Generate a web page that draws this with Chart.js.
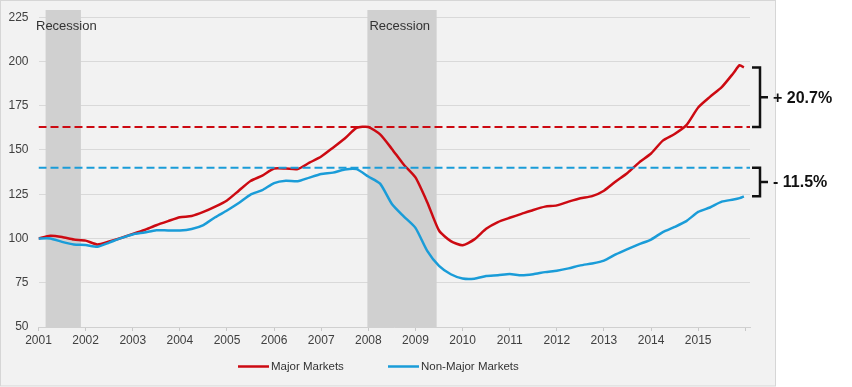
<!DOCTYPE html>
<html>
<head>
<meta charset="utf-8">
<script src="https://cdn.jsdelivr.net/npm/chart.js@4.4.1/dist/chart.umd.min.js"></script>
<style>
  html, body { margin: 0; padding: 0; background: #ffffff; }
  #wrap { width: 852px; height: 387px; }
</style>
</head>
<body>
<div id="wrap"><canvas id="chart" width="852" height="387"></canvas></div>
<script>
// Index levels, 2001 = 100 (roughly quarterly)
const years = [
  2001.00, 2001.25, 2001.50, 2001.75, 2002.00, 2002.25, 2002.50, 2002.75,
  2003.00, 2003.25, 2003.50, 2003.75, 2004.00, 2004.25, 2004.50, 2004.75,
  2005.00, 2005.25, 2005.50, 2005.75, 2006.00, 2006.25, 2006.50, 2006.75,
  2007.00, 2007.25, 2007.50, 2007.75, 2008.00, 2008.25, 2008.50, 2008.75,
  2009.00, 2009.25, 2009.50, 2009.75, 2010.00, 2010.25, 2010.50, 2010.75,
  2011.00, 2011.25, 2011.50, 2011.75, 2012.00, 2012.25, 2012.50, 2012.75,
  2013.00, 2013.25, 2013.50, 2013.75, 2014.00, 2014.25, 2014.50, 2014.75,
  2015.00, 2015.25, 2015.50, 2015.75, 2015.88, 2015.97
];
const majorMarkets = [
  100.0, 101.5, 100.8, 99.4, 98.8, 96.6, 98.3, 100.3,
  102.5, 104.8, 107.5, 109.8, 112.0, 112.7, 115.0, 118.0,
  121.5, 127.0, 132.5, 135.5, 139.5, 139.5, 139.2, 142.8,
  146.3, 151.3, 156.5, 162.5, 163.0, 158.8, 150.6, 141.8,
  134.5, 120.5, 104.5, 98.5, 96.2, 99.5, 105.5, 109.3,
  111.7, 113.9, 116.1, 118.0, 118.7, 120.8, 122.7, 123.9,
  127.0, 132.2, 137.0, 143.0, 148.0, 155.3, 159.0, 164.0,
  174.0, 180.0, 185.5, 193.5, 197.9, 196.6
];
const nonMajorMarkets = [
  100.0, 100.0, 98.1, 96.6, 96.3, 95.3, 97.7, 100.2,
  102.3, 103.4, 104.7, 104.5, 104.5, 105.4, 107.6, 112.0,
  115.8, 120.0, 124.8, 127.3, 131.3, 132.6, 132.3, 134.4,
  136.4, 137.2, 139.0, 139.2, 135.0, 131.0, 119.5, 112.5,
  106.0, 93.0, 84.5, 79.8, 77.4, 77.3, 78.8, 79.2,
  79.9, 79.2, 79.8, 81.0, 81.8, 83.1, 84.8, 85.9,
  87.5, 91.0, 94.0, 96.8, 99.4, 103.6, 106.5, 109.8,
  115.0, 117.5, 120.8, 122.0, 122.8, 123.8
];

// Pre-recession peaks (dashed reference lines)
const peakLevels = [163, 140];
const changeLabels = ['+ 20.7%', '- 11.5%'];

// Recession periods
const recessionStart = [2001.15, 2007.98];
const recessionEnd = [2001.90, 2009.45];
const recessionLabel = 'Recession';

const seriesNames = ['Major Markets', 'Non-Major Markets'];
const RED = '#cc0a12';
const BLUE = '#1a9cd8';
const FONT = '"Liberation Sans", Arial, sans-serif';

const X_MIN = 2001, X_MAX = 2016.1;

function toPoints(values) {
  return years.map((x, i) => ({ x: x, y: values[i] }));
}

// Panel, recession shading, brackets and legend
const decorations = {
  id: 'decorations',
  beforeDraw(chart) {
    const ctx = chart.ctx;
    ctx.save();
    ctx.fillStyle = '#ffffff';
    ctx.fillRect(0, 0, chart.width, chart.height);
    ctx.fillStyle = '#f2f2f2';
    ctx.fillRect(0.5, 0.5, 775, 385.5);
    ctx.strokeStyle = '#d6d6d6';
    ctx.lineWidth = 1;
    ctx.strokeRect(0.5, 0.5, 775, 385.5);
    ctx.restore();
  },
  beforeDatasetsDraw(chart) {
    const ctx = chart.ctx;
    const xs = chart.scales.x;
    const area = chart.chartArea;
    ctx.save();
    ctx.fillStyle = '#d0d0d0';
    recessionStart.forEach((s, i) => {
      const x0 = xs.getPixelForValue(s);
      const x1 = xs.getPixelForValue(recessionEnd[i]);
      ctx.fillRect(x0, 10, x1 - x0, area.bottom - 10);
    });
    ctx.fillStyle = '#333333';
    ctx.font = '13px ' + FONT;
    ctx.textBaseline = 'middle';
    ctx.textAlign = 'left';
    ctx.fillText(recessionLabel, 36, 26);
    ctx.fillText(recessionLabel, xs.getPixelForValue(recessionStart[1]) + 2, 26);
    ctx.restore();
  },
  afterDraw(chart) {
    const ctx = chart.ctx;
    const ys = chart.scales.y;
    const ends = [majorMarkets[majorMarkets.length - 1], nonMajorMarkets[nonMajorMarkets.length - 1]];
    ctx.save();
    ctx.strokeStyle = '#111111';
    ctx.lineWidth = 2.5;
    ctx.fillStyle = '#111111';
    ctx.font = 'bold 16px ' + FONT;
    ctx.textBaseline = 'middle';
    ctx.textAlign = 'left';
    peakLevels.forEach((lvl, i) => {
      const a = ys.getPixelForValue(Math.max(lvl, ends[i]));
      const b = ys.getPixelForValue(Math.min(lvl, ends[i]));
      const mid = (a + b) / 2;
      ctx.beginPath();
      ctx.moveTo(752, a);
      ctx.lineTo(760, a);
      ctx.lineTo(760, b);
      ctx.lineTo(752, b);
      ctx.moveTo(760, mid);
      ctx.lineTo(768, mid);
      ctx.stroke();
      ctx.fillText(changeLabels[i], 773, mid + 1);
    });

    // legend
    const legendX = [238, 388];
    const colors = [RED, BLUE];
    ctx.font = '11.5px ' + FONT;
    ctx.fillStyle = '#333333';
    ctx.lineWidth = 2.5;
    seriesNames.forEach((name, i) => {
      ctx.strokeStyle = colors[i];
      ctx.beginPath();
      ctx.moveTo(legendX[i], 366.5);
      ctx.lineTo(legendX[i] + 31, 366.5);
      ctx.stroke();
      ctx.fillText(name, legendX[i] + 33, 367);
    });
    ctx.restore();
  }
};

const ctx = document.getElementById('chart').getContext('2d');
new Chart(ctx, {
  type: 'line',
  data: {
    datasets: [
      {
        label: 'Major peak',
        data: [{ x: X_MIN, y: peakLevels[0] }, { x: X_MAX, y: peakLevels[0] }],
        borderColor: RED,
        borderWidth: 2,
        borderDash: [8, 4],
        pointRadius: 0
      },
      {
        label: 'Non-major peak',
        data: [{ x: X_MIN, y: peakLevels[1] }, { x: X_MAX, y: peakLevels[1] }],
        borderColor: BLUE,
        borderWidth: 2,
        borderDash: [8, 4],
        pointRadius: 0
      },
      {
        label: seriesNames[1],
        data: toPoints(nonMajorMarkets),
        borderColor: BLUE,
        borderWidth: 2.5,
        pointRadius: 0,
        tension: 0.2
      },
      {
        label: seriesNames[0],
        data: toPoints(majorMarkets),
        borderColor: RED,
        borderWidth: 2.5,
        pointRadius: 0,
        tension: 0.2
      }
    ]
  },
  options: {
    responsive: false,
    animation: false,
    layout: { padding: { left: 0, right: 102, top: 15, bottom: 0 } },
    plugins: {
      legend: { display: false },
      tooltip: { enabled: false }
    },
    scales: {
      x: {
        type: 'linear',
        min: X_MIN,
        max: X_MAX,
        afterFit: (scale) => { scale.height = 60; },
        grid: {
          drawOnChartArea: false,
          drawTicks: true,
          tickLength: 4,
          color: '#c8c8c8'
        },
        border: { color: '#d0d0d0' },
        ticks: {
          stepSize: 1,
          includeBounds: false,
          padding: 2,
          maxRotation: 0,
          autoSkip: false,
          color: '#404040',
          font: { family: FONT, size: 12 },
          callback: (v) => (v <= 2015 ? String(v) : '')
        }
      },
      y: {
        min: 50,
        max: 225,
        afterFit: (scale) => { scale.width = 38.5; },
        grid: {
          color: '#d9d9d9',
          drawTicks: false
        },
        border: { display: false },
        ticks: {
          stepSize: 25,
          padding: 10,
          color: '#404040',
          font: { family: FONT, size: 12 }
        }
      }
    }
  },
  plugins: [decorations]
});
</script>
</body>
</html>
